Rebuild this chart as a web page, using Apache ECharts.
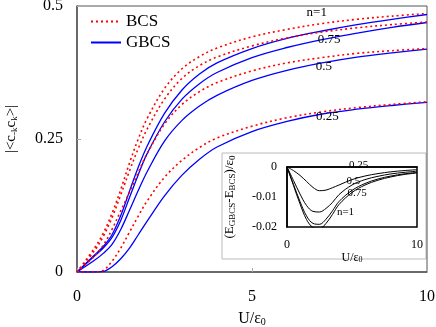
<!DOCTYPE html>
<html>
<head>
<meta charset="utf-8" />
<script src="https://cdn.jsdelivr.net/npm/echarts@6/dist/echarts.min.js"></script>
<style>
  * { margin: 0; padding: 0; box-sizing: border-box; }
</style>
</head>
<body>
<div id="main" style="width: 436px; height: 327px"></div>
<script>
  // main panel: pairing amplitude vs U/eps0
  const uMain = [0, 0.5, 0.75, 1, 1.25, 1.5, 1.75, 2, 2.5, 3, 3.5, 4, 5, 6, 7, 8, 9, 10];
  const bcs1 = [0, 0.045, 0.073, 0.11, 0.155, 0.205, 0.25, 0.288, 0.345, 0.382, 0.405, 0.421, 0.442, 0.456, 0.467, 0.475, 0.481, 0.486];
  const bcs75 = [0, 0.04, 0.067, 0.102, 0.145, 0.19, 0.232, 0.268, 0.325, 0.364, 0.388, 0.404, 0.425, 0.44, 0.451, 0.459, 0.465, 0.47];
  const bcs50 = [0, 0.03, 0.05, 0.08, 0.115, 0.15, 0.187, 0.222, 0.278, 0.315, 0.339, 0.356, 0.378, 0.393, 0.403, 0.411, 0.416, 0.42];
  const bcs25 = [0, 0, 0.003, 0.02, 0.045, 0.075, 0.105, 0.133, 0.178, 0.21, 0.234, 0.252, 0.274, 0.29, 0.301, 0.309, 0.315, 0.32];
  const gbcs1 = [0, 0.032, 0.048, 0.07, 0.106, 0.152, 0.197, 0.236, 0.298, 0.342, 0.372, 0.393, 0.42, 0.439, 0.453, 0.465, 0.475, 0.484];
  const gbcs75 = [0, 0.03, 0.045, 0.065, 0.097, 0.14, 0.183, 0.222, 0.282, 0.325, 0.354, 0.375, 0.403, 0.422, 0.437, 0.449, 0.46, 0.469];
  const gbcs50 = [0, 0.022, 0.035, 0.052, 0.08, 0.116, 0.153, 0.188, 0.246, 0.285, 0.312, 0.332, 0.36, 0.379, 0.393, 0.404, 0.412, 0.419];
  const gbcs25 = [0, 0, 0.001, 0.01, 0.025, 0.045, 0.07, 0.095, 0.143, 0.182, 0.212, 0.235, 0.264, 0.283, 0.297, 0.306, 0.313, 0.319];
  const mainLabels = ["n=1", "0.75", "0.5", "0.25"];
  const mainLabelPos = [[6.85, 0.487], [7.2, 0.436], [7.05, 0.386], [7.15, 0.292]];

  // inset: energy difference
  const uInset = [0, 0.5, 1, 1.5, 2, 2.5, 3, 3.5, 4, 5, 6, 7, 8, 9, 10];
  const dE25 = [0, -0.0012, -0.0028, -0.0048, -0.0068, -0.0079, -0.0077, -0.0069, -0.006, -0.0042, -0.003, -0.0022, -0.0016, -0.0012, -0.0009];
  const dE50 = [0, -0.0045, -0.009, -0.0128, -0.0148, -0.015, -0.0138, -0.0118, -0.0092, -0.006, -0.0042, -0.0031, -0.0023, -0.0018, -0.0014];
  const dE75 = [0, -0.0058, -0.0115, -0.0163, -0.0188, -0.0191, -0.0174, -0.0146, -0.0115, -0.0078, -0.0055, -0.004, -0.003, -0.0023, -0.0018];
  const dE1 = [0, -0.0062, -0.0123, -0.0175, -0.0202, -0.0206, -0.0188, -0.0158, -0.0125, -0.0085, -0.006, -0.0044, -0.0033, -0.0025, -0.002];
  const insetLabels = ["0.25", "0.5", "0.75", "n=1"];
  const insetLabelPos = [[5.5, 0.0006], [5.1, -0.0047], [5.4, -0.0087], [4.5, -0.0149]];

  const serif = "Liberation Serif";
  var myChart = echarts.init(document.getElementById("main"));

  const pairs = (xs, ys) => xs.map((x, i) => [x, ys[i]]);
  const bcsLine = (ys) => ({
    name: "BCS", type: "line", xAxisIndex: 0, yAxisIndex: 0,
    data: pairs(uMain, ys), symbol: "none", smooth: 0.35,
    lineStyle: { color: "#ff0000", width: 1.6, type: [2, 3] },
    itemStyle: { color: "#ff0000" }, z: 3,
  });
  const gbcsLine = (ys) => ({
    name: "GBCS", type: "line", xAxisIndex: 0, yAxisIndex: 0,
    data: pairs(uMain, ys), symbol: "none", smooth: 0.35,
    lineStyle: { color: "#0000ff", width: 1.3 },
    itemStyle: { color: "#0000ff" }, z: 2,
  });
  const insetLine = (ys) => ({
    type: "line", xAxisIndex: 1, yAxisIndex: 1,
    data: pairs(uInset, ys), symbol: "none", smooth: 0.35,
    lineStyle: { color: "#000", width: 1 }, z: 4,
  });

  const sub = { fontSize: 10, fontFamily: serif, color: "#000", verticalAlign: "bottom", padding: [6, 0, 0, 0] };

  var option = {
    animation: false,
    textStyle: { fontFamily: serif },
    legend: {
      data: ["BCS", "GBCS"],
      orient: "vertical",
      left: 85, top: 8,
      itemWidth: 30, itemHeight: 12, itemGap: 4,
      itemStyle: { opacity: 0 },
      textStyle: { fontSize: 17, fontFamily: serif, color: "#000" },
    },
    grid: [
      { left: 77, top: 6, width: 350, height: 266, show: true, borderColor: "#555", borderWidth: 1, outerBoundsMode: "none" },
      { left: 287, top: 167, width: 130, height: 60, show: true, borderColor: "#000", borderWidth: 1.5, outerBoundsMode: "none" },
    ],
    xAxis: [
      {
        type: "value", gridIndex: 0, min: 0, max: 10, interval: 5,
        name: "{a|U/ε}{s|0}", nameLocation: "middle", nameGap: 39,
        nameTextStyle: { rich: { a: { fontSize: 16, fontFamily: serif, color: "#000" }, s: sub } },
        axisLine: { lineStyle: { color: "#555", width: 1.5 } },
        axisTick: { inside: true, length: 4, lineStyle: { color: "#aaa" } },
        axisLabel: { fontSize: 16, color: "#000", margin: 17 },
        splitLine: { show: false },
      },
      {
        type: "value", gridIndex: 1, min: 0, max: 10, interval: 10,
        name: "{a|U/ε}{s|0}", nameLocation: "middle", nameGap: 14,
        nameTextStyle: { rich: { a: { fontSize: 12, fontFamily: serif, color: "#000" }, s: Object.assign({}, sub, { fontSize: 8, padding: [5, 0, 0, 0] }) } },
        axisLine: { lineStyle: { color: "#000", width: 1.5 } },
        axisTick: { show: false },
        axisLabel: { fontSize: 12, color: "#000", margin: 12 },
        splitLine: { show: false },
      },
    ],
    yAxis: [
      {
        type: "value", gridIndex: 0, min: 0, max: 0.5, interval: 0.25,
        name: "{a||<c}{s|-k}{a|c}{s|k}{a|>|}", nameLocation: "middle", nameGap: 58, nameRotate: 90,
        nameTextStyle: {
          rich: { a: { fontSize: 15, fontFamily: serif, color: "#000" }, s: Object.assign({}, sub, { fontSize: 9 }) },
          padding: [0, 0, 0, 20],
        },
        axisLine: { lineStyle: { color: "#555", width: 1.5 } },
        axisTick: { inside: true, length: 4, lineStyle: { color: "#aaa" } },
        axisLabel: { fontSize: 16, color: "#000", margin: 14 },
        splitLine: { show: false },
      },
      {
        type: "value", gridIndex: 1, min: -0.02, max: 0, interval: 0.01,
        name: "{a|(E}{s|GBCS}{a|-E}{s|BCS}{a|)/ε}{s|0}", nameLocation: "middle", nameGap: 50, nameRotate: 90,
        nameTextStyle: { rich: { a: { fontSize: 13, fontFamily: serif, color: "#000" }, s: Object.assign({}, sub, { fontSize: 9, padding: [5, 0, 0, 0] }) } },
        axisLine: { lineStyle: { color: "#000", width: 1.5 } },
        axisTick: { show: false },
        axisLabel: { fontSize: 12, color: "#000", margin: 10 },
        splitLine: { show: false },
      },
    ],
    graphic: [
      {
        type: "rect", z: -1,
        shape: { x: 222, y: 153, width: 204, height: 106 },
        style: { fill: "#fff", stroke: "#bbb", lineWidth: 1 },
      },
    ],
    series: [
      bcsLine(bcs1), bcsLine(bcs75), bcsLine(bcs50), bcsLine(bcs25),
      gbcsLine(gbcs1), gbcsLine(gbcs75), gbcsLine(gbcs50), gbcsLine(gbcs25),
      insetLine(dE25), insetLine(dE50), insetLine(dE75), insetLine(dE1),
    ],
  };

  myChart.setOption(option);

  // curve labels placed in data coordinates
  const texts = [];
  mainLabels.forEach((t, i) => {
    const p = myChart.convertToPixel({ gridIndex: 0 }, mainLabelPos[i]);
    texts.push({ type: "text", x: p[0], y: p[1], z: 10,
      style: { text: t, fontSize: 13, fontFamily: serif, fill: "#000", align: "center", verticalAlign: "middle" } });
  });
  insetLabels.forEach((t, i) => {
    const p = myChart.convertToPixel({ gridIndex: 1 }, insetLabelPos[i]);
    texts.push({ type: "text", x: p[0], y: p[1], z: 10,
      style: { text: t, fontSize: 11, fontFamily: serif, fill: "#000", align: "center", verticalAlign: "middle" } });
  });
  myChart.setOption({ graphic: option.graphic.concat(texts) });
</script>
</body>
</html>
